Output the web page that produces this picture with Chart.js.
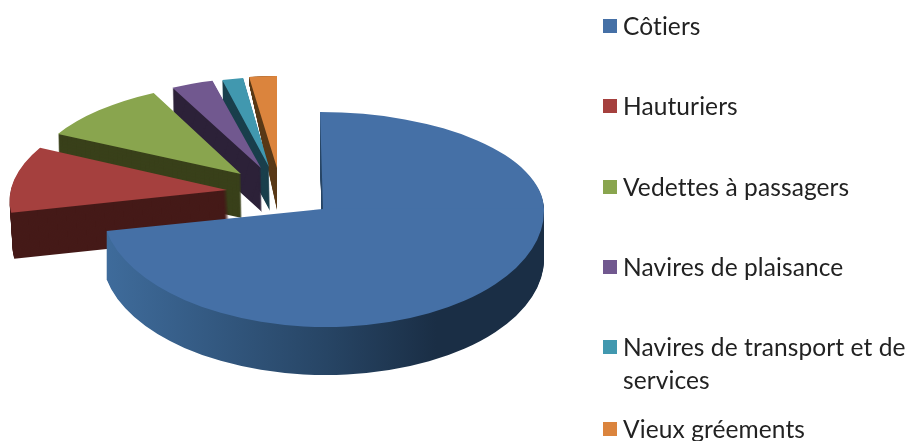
<!DOCTYPE html>
<html>
<head>
<meta charset="utf-8">
<title>Flotte</title>
<script src="https://cdn.jsdelivr.net/npm/chart.js@4/dist/chart.umd.min.js"></script>
<style>
  html, body { margin: 0; padding: 0; background: #fff; }
  #wrap { position: relative; width: 909px; height: 441px; overflow: hidden; filter: blur(0.4px); }
  #pie { position: absolute; left: 0; top: 0; }
  .key { position: absolute; left: 603px; width: 14px; height: 14px; }
  .lbl { position: absolute; left: 623px; width: 286px; font: 24.5px/33px Lato, sans-serif; letter-spacing: 0.1px; color: #222; }
</style>
</head>
<body>
<div id="wrap">
  <canvas id="pie" width="909" height="441"></canvas>
</div>
<script>
const categories = ['Côtiers', 'Hauturiers', 'Vedettes à passagers', 'Navires de plaisance', 'Navires de transport et de services', 'Vieux gréements'];
const shares = [72, 10.5, 10, 3.5, 1.7, 2.3];
const faceColors = ['#4570a6', '#a5403e', '#89a54e', '#71588f', '#4198af', '#db843d'];
const wallColors = ['#274565', '#451a18', '#39401a', '#2c2138', '#1a3f4c', '#5a3a18'];
const legendRows = [26, 106, 187, 267, 347, 429];

// the pie is drawn flat by Chart.js then tilted here, one matrix per slice: a, b, c, d, e, f
const R = 200;
const sliceViews = [
  [221, 0, 3, 97, 323, 209],
  [217, -4, -14, 101, 227, 190],
  [210, -2, -9, 92, 241, 174],
  [195, 0, 0, 90, 261, 168],
  [200, -1, -3, 90, 269, 167],
  [194, 0, 0, 92, 277, 168]
];
const frontSquash = 118; // front half of the big slice is closer so it looks taller
const wallDepth = [48, 46, 44, 44, 44, 42];
const wallDrift = [0, 3, 1, 1, 1, 0];
const wallStretch = [0, 0, 0, 0, 0, 36]; // orange side nearly closes up at its far end

function paintSlice(ctx, el, i, fill, dx, dy, stretch) {
  const v = sliceViews[i];
  const parts = i === 0 ? [[v[3], -1], [frontSquash, 1]] : [[v[3], 0]];
  const shim = Object.create(el);
  shim.options = { backgroundColor: fill, borderColor: fill, borderWidth: 0, borderRadius: 0, offset: 0, spacing: 0, circular: true, borderAlign: 'center' };
  parts.forEach(p => {
    ctx.save();
    ctx.transform(v[0] / R, v[1] / R, v[2] / R, (p[0] + stretch) / R, v[4] + dx, v[5] + dy);
    ctx.translate(-el.x, -el.y);
    if (p[1] !== 0) {
      ctx.beginPath();
      if (p[1] < 0) ctx.rect(el.x - 2 * R, el.y - 2 * R, 4 * R, 2 * R + 0.6);
      else ctx.rect(el.x - 2 * R, el.y - 0.6, 4 * R, 2 * R);
      ctx.clip();
    }
    shim.draw(ctx);
    ctx.restore();
  });
}

const tilted = {
  id: 'tilted',
  beforeDatasetsDraw(chart) {
    const ctx = chart.ctx;
    const arcs = chart.getDatasetMeta(0).data;
    for (let i = arcs.length - 1; i >= 0; i--) {
      const el = arcs[i];
      let wall = wallColors[i];
      if (i === 0) {
        // side of the big slice goes darker to the right
        wall = ctx.createLinearGradient(el.x - R, 0, el.x + R, 0);
        wall.addColorStop(0, '#3f6c9c');
        wall.addColorStop(0.5, '#274565');
        wall.addColorStop(0.75, '#1a2e45');
        wall.addColorStop(1, '#1a2e45');
      }
      for (let k = wallDepth[i]; k > 0; k--) {
        const t = k / wallDepth[i];
        paintSlice(ctx, el, i, wall, wallDrift[i] * t, k, wallStretch[i] * t);
      }
      paintSlice(ctx, el, i, faceColors[i], 0, 0, 0);
    }
    return false;
  }
};

new Chart(document.getElementById('pie'), {
  type: 'pie',
  data: {
    labels: categories,
    datasets: [{ data: shares, backgroundColor: faceColors, borderWidth: 0, radius: R }]
  },
  options: {
    responsive: false,
    animation: false,
    plugins: { legend: { display: false }, tooltip: { enabled: false } }
  },
  plugins: [tilted]
});

// legend rows, one line box per row centre
const wrap = document.getElementById('wrap');
categories.forEach((name, i) => {
  const key = document.createElement('div');
  key.className = 'key';
  key.style.top = (legendRows[i] - 7) + 'px';
  key.style.background = faceColors[i];
  wrap.appendChild(key);
  const lbl = document.createElement('div');
  lbl.className = 'lbl';
  lbl.style.top = (legendRows[i] - 17) + 'px';
  lbl.textContent = name;
  wrap.appendChild(lbl);
});
</script>
</body>
</html>
